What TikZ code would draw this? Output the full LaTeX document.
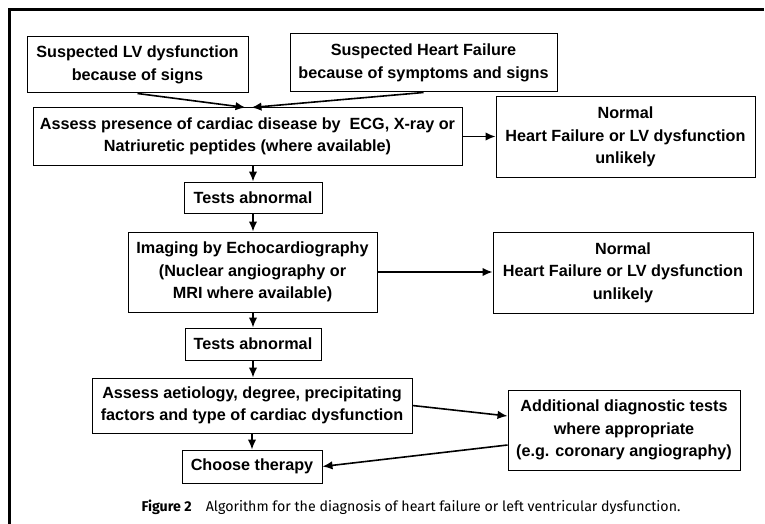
\documentclass[tikz,border=0pt]{standalone}
\usepackage{fontspec}
\setmainfont{Liberation Sans}
\newfontfamily\capfont{Fira Sans}
\usetikzlibrary{arrows.meta}

\begin{document}
\begin{tikzpicture}[x=1pt, y=-1pt,
    font=\bfseries\fontsize{16.2}{22.5}\selectfont,
    box/.style={draw, line width=1pt, align=center, inner sep=0pt},
    flow/.style={-{Latex[length=10pt,width=8.5pt]}, line width=1.6pt}]
   \useasboundingbox (0,0) rectangle (765,524);

   % Frame
   \coordinate (fbl) at (9,524);
   \coordinate (ftl) at (9,10);
   \coordinate (ftr) at (764,10);
   \draw[line width=3pt] (fbl) -- (ftl) -- (ftr);

   % Suspicion boxes
   \node[box, minimum width=221pt, minimum height=56pt] (lv) at (137.5,65)
      {Suspected LV dysfunction\\because of signs};
   \node[box, minimum width=267pt, minimum height=58pt] (hf) at (423.5,63)
      {Suspected Heart Failure\\because of symptoms and signs};

   % Main column
   \node[box, minimum width=429pt, minimum height=57pt] (assess) at (247.5,136.5)
      {Assess presence of cardiac disease by \ ECG, X-ray or\\Natriuretic peptides (where available)};
   \node[box, minimum width=138pt, minimum height=31pt] (testsa) at (253,197.5)
      {Tests abnormal};
   \node[box, minimum width=249pt, minimum height=80pt] (imaging) at (252.5,272)
      {Imaging by Echocardiography\\(Nuclear angiography or\\MRI where available)};
   \node[box, minimum width=136pt, minimum height=32pt] (testsb) at (253,344)
      {Tests abnormal};
   \node[box, minimum width=320pt, minimum height=55pt] (aetiol) at (252,405.5)
      {Assess aetiology, degree, precipitating\\factors and type of cardiac dysfunction};
   \node[box, minimum width=140pt, minimum height=33pt] (therapy) at (252,466.5)
      {Choose therapy};

   % Side boxes
   \node[box, minimum width=259pt, minimum height=80pt] (norma) at (625.5,137)
      {Normal\\Heart Failure or LV dysfunction\\unlikely};
   \node[box, minimum width=260pt, minimum height=81pt] (normb) at (623,272.5)
      {Normal\\Heart Failure or LV dysfunction\\unlikely};
   \node[box, minimum width=232pt, minimum height=80pt] (addl) at (624,430)
      {Additional diagnostic tests\\where appropriate\\(e.g. coronary angiography)};

   % Caption
   \node[font=\capfont\fontsize{14.2}{17}\selectfont] (cap) at (411,507)
      {\textbf{Figure 2}\quad Algorithm for the diagnosis of heart failure or left ventricular dysfunction.};

   % Transitions
   \draw[flow] (lv.south) -- ([xshift=-2pt]assess.north);
   \draw[flow] (hf.south) -- ([xshift=4pt]assess.north);
   \draw[flow] (assess.east) -- (norma.west |- assess.east);
   \draw[flow] (testsa.north |- assess.south) -- (testsa.north);
   \draw[flow] (testsa.south) -- (imaging.north -| testsa.south);
   \draw[flow] (imaging.east) -- (normb.west |- imaging.east);
   \draw[flow] (testsb.north |- imaging.south) -- (testsb.north);
   \draw[flow] (testsb.south) -- (aetiol.north -| testsb.south);
   \draw[flow] (therapy.north |- aetiol.south) -- (therapy.north);
   \draw[flow] (aetiol.east) -- ([yshift=14pt]addl.west);
   \draw[flow] ([yshift=-15pt]addl.west) -- (therapy.east);
\end{tikzpicture}
\end{document}
